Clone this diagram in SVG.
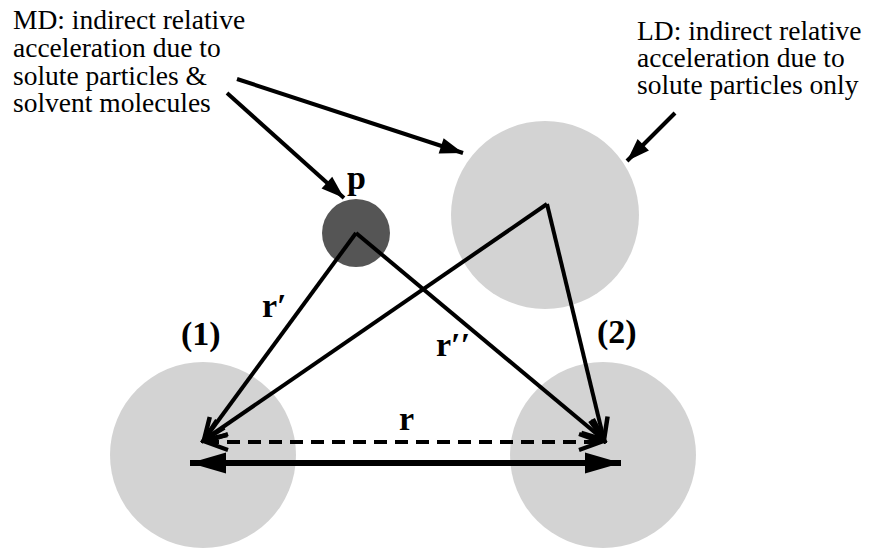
<svg xmlns="http://www.w3.org/2000/svg" width="869" height="548" viewBox="0 0 869 548">
<style>
.lbl{font-family:"Liberation Serif","Times New Roman","DejaVu Serif",serif;font-size:27.5px;font-weight:normal;fill:#000}
.bold{font-family:"Liberation Serif","Times New Roman","DejaVu Serif",serif;font-size:34px;font-weight:bold;fill:#000}
.ln{stroke:#000;stroke-width:4;fill:none}
.dash{stroke:#000;stroke-width:4;fill:none;stroke-dasharray:13 8}
.thick{stroke:#000;stroke-width:6;fill:none}
.big{fill:#d3d3d3}
</style>
<defs>
<marker id="openV" markerUnits="userSpaceOnUse" viewBox="-28 -14 32 28" refX="0" refY="0" markerWidth="32" markerHeight="28" orient="auto">
<path d="M-22,-9 L0,0 L-22,9" fill="none" stroke="#000" stroke-width="4.5"/>
</marker>
<marker id="openVs" markerUnits="userSpaceOnUse" viewBox="-28 -14 32 28" refX="0" refY="0" markerWidth="32" markerHeight="28" orient="auto-start-reverse">
<path d="M-22,-8 L0,0 L-22,8" fill="none" stroke="#000" stroke-width="4"/>
</marker>
<marker id="filled" markerUnits="userSpaceOnUse" viewBox="-24 -10 26 20" refX="0" refY="0" markerWidth="26" markerHeight="20" orient="auto">
<path d="M-23,-8 L0,0 L-23,8 Z" fill="#000"/>
</marker>
<marker id="bigHead" markerUnits="userSpaceOnUse" viewBox="-38 -12 40 24" refX="0" refY="0" markerWidth="40" markerHeight="24" orient="auto-start-reverse">
<path d="M-36,-10.5 L0,0 L-36,10.5 Z" fill="#000"/>
</marker>
</defs>

<g id="node-big">
<circle class="big" cx="545" cy="215" r="94"/>
</g>
<g id="node-1">
<circle class="big" cx="203" cy="455" r="93"/>
<text class="bold" x="181" y="345">(1)</text>
</g>
<g id="node-2">
<circle class="big" cx="603" cy="455" r="93"/>
<text class="bold" x="597" y="343">(2)</text>
</g>
<g id="node-p">
<circle cx="356" cy="233" r="34" fill="#555"/>
<text class="bold" x="347" y="189">p</text>
</g>

<g id="connectors">
<line class="ln" x1="356" y1="233" x2="204" y2="440" marker-end="url(#openV)"/>
<line class="ln" x1="356" y1="233" x2="604" y2="440" marker-end="url(#openV)"/>
<line class="ln" x1="547" y1="204" x2="204" y2="440" marker-end="url(#openV)"/>
<line class="ln" x1="547" y1="204" x2="604" y2="440" marker-end="url(#openV)"/>
<line class="dash" x1="206" y1="442" x2="601" y2="442" marker-start="url(#openVs)" marker-end="url(#openVs)"/>
<line class="thick" x1="190" y1="463" x2="621" y2="463" marker-start="url(#bigHead)" marker-end="url(#bigHead)"/>
<line class="ln" x1="237" y1="79" x2="463" y2="153" marker-end="url(#filled)"/>
<line class="ln" x1="227" y1="93" x2="344" y2="198" marker-end="url(#filled)"/>
<line class="ln" x1="675" y1="113" x2="627" y2="161" marker-end="url(#filled)"/>
</g>

<g id="labels">
<text class="bold" x="262" y="317">r′</text>
<text class="bold" x="436" y="356">r′′</text>
<text class="bold" x="399" y="430">r</text>
<text class="lbl" x="13" y="29">MD: indirect relative</text>
<text class="lbl" x="13" y="57">acceleration due to</text>
<text class="lbl" x="13" y="85">solute particles &amp;</text>
<text class="lbl" x="13" y="112">solvent molecules</text>
<text class="lbl" x="637" y="40">LD: indirect relative</text>
<text class="lbl" x="637" y="67">acceleration due to</text>
<text class="lbl" x="637" y="94">solute particles only</text>
</g>
</svg>
